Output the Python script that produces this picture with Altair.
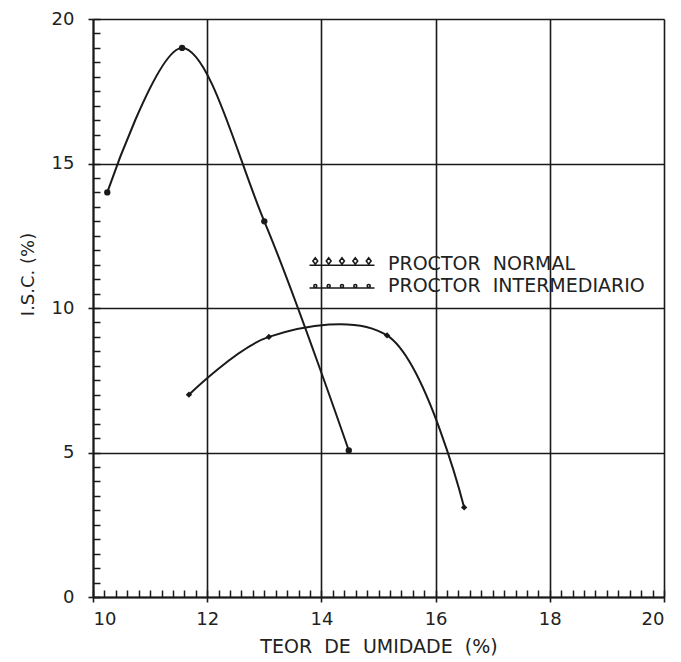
import altair as alt
import pandas as pd

# Data
x_normal = [11.68, 13.08, 15.15, 16.50]
y_normal = [7.0, 9.0, 9.05, 3.1]
x_inter = [10.25, 11.56, 13.00, 14.48]
y_inter = [14.0, 19.0, 13.0, 5.07]
series_names = ["PROCTOR\u00a0\u00a0NORMAL", "PROCTOR\u00a0\u00a0INTERMEDIARIO"]
x_ticks = [10, 12, 14, 16, 18, 20]
y_ticks = [0, 5, 10, 15, 20]
x_minor = [round(10 + 0.2 * i, 1) for i in range(51)]
y_minor = [round(0.5 * i, 1) for i in range(41)]

df = pd.DataFrame({
    "x": x_normal + x_inter,
    "y": y_normal + y_inter,
    "serie": [series_names[0]] * len(x_normal) + [series_names[1]] * len(x_inter),
    "ord": list(range(len(x_normal))) + list(range(len(x_inter))),
})

W, H = 571, 578
FONT = "DejaVu Sans"
INK = "#1a1a1a"

# legend symbol paths (line with small markers); symbol scale = sqrt(size)/2 = 10 px per unit
mk = [-2.67, -1.33, 0.0, 1.33, 2.67]
diam = "".join(f"M{c-0.24:.3f},-0.3L{c:.3f},-0.62L{c+0.24:.3f},-0.3L{c:.3f},0.02Z" for c in mk)
dots = "".join(f"M{c-0.15:.3f},0a0.15,0.15 0 1,0 0.3,0a0.15,0.15 0 1,0 -0.3,0Z" for c in mk)
sym_normal = "M-3.25,0.12L3.25,0.12" + diam
sym_inter = "M-3.25,0.2L3.25,0.2" + dots

xs = alt.Scale(domain=[10, 20], nice=False, zero=False)
ys = alt.Scale(domain=[0, 20], nice=False)

lines = alt.Chart(df).mark_line(interpolate="catmull-rom", strokeWidth=2, color=INK).encode(
    x=alt.X("x:Q", scale=xs, axis=alt.Axis(
        values=x_ticks, grid=True, gridColor=INK, gridWidth=1.6, gridOpacity=1,
        tickSize=5, tickColor=INK, tickWidth=1.6, domainColor=INK, domainWidth=2,
        labelFont=FONT, labelFontSize=18, labelColor="#222", labelPadding=8,
        title="TEOR\u00a0\u00a0DE\u00a0\u00a0UMIDADE\u00a0\u00a0(%)", titleFont=FONT, titleFontSize=19,
        titleFontWeight="normal", titleColor="#222", titlePadding=9)),
    y=alt.Y("y:Q", scale=ys, axis=alt.Axis(
        values=y_ticks, grid=True, gridColor=INK, gridWidth=1.6, gridOpacity=1,
        tickSize=5, tickColor=INK, tickWidth=1.6, domainColor=INK, domainWidth=2,
        labelFont=FONT, labelFontSize=18, labelColor="#222", labelPadding=14,
        title="I.S.C.\u00a0(%)", titleFont=FONT, titleFontSize=18, titleFontWeight="normal",
        titleColor="#222", titlePadding=14, titleY=255)),
    detail="serie:N",
    order="ord:Q",
)

pts_normal = alt.Chart(df).transform_filter(
    alt.datum.serie == series_names[0]
).mark_point(filled=True, size=40, opacity=1, color=INK, shape="diamond").encode(
    x=alt.X("x:Q", scale=xs, axis=alt.Axis(
        orient="bottom", offset=-7, values=x_minor, labels=False, title=None, domain=False,
        grid=False, tickSize=7, tickColor=INK, tickWidth=1.5)),
    y=alt.Y("y:Q", scale=ys, axis=alt.Axis(
        orient="left", offset=-7, values=y_minor, labels=False, title=None, domain=False,
        grid=False, tickSize=7, tickColor=INK, tickWidth=1.5)),
)

pts_inter = alt.Chart(df).transform_filter(
    alt.datum.serie == series_names[1]
).mark_point(filled=True, size=40, opacity=1, color=INK, shape="circle").encode(
    x=alt.X("x:Q", scale=xs, axis=None),
    y=alt.Y("y:Q", scale=ys, axis=None),
)

legend_layer = alt.Chart(df).mark_point(size=1, filled=False, color=INK, strokeWidth=0.1).encode(
    x=alt.X("x:Q", scale=xs, axis=None),
    y=alt.Y("y:Q", scale=ys, axis=None),
    shape=alt.Shape("serie:N", scale=alt.Scale(domain=series_names, range=[sym_normal, sym_inter]),
                    legend=alt.Legend(title=None, orient="none", legendX=238, legendY=234,
                                      symbolSize=400, symbolStrokeWidth=1.6,
                                      symbolStrokeColor=INK, symbolFillColor="transparent",
                                      symbolOpacity=1, labelFont=FONT, labelFontSize=19,
                                      labelColor="#222", labelLimit=0, rowPadding=1,
                                      labelOffset=35)),
)

chart = alt.layer(lines, pts_normal, pts_inter, legend_layer).resolve_axis(
    x="independent", y="independent"
).properties(
    width=W, height=H, padding={"left": 11, "top": 2, "right": 5, "bottom": 5}
).configure_view(stroke=INK, strokeWidth=2).configure(background="white")

chart.save("out.html", embed_options={"renderer": "svg", "actions": False})
